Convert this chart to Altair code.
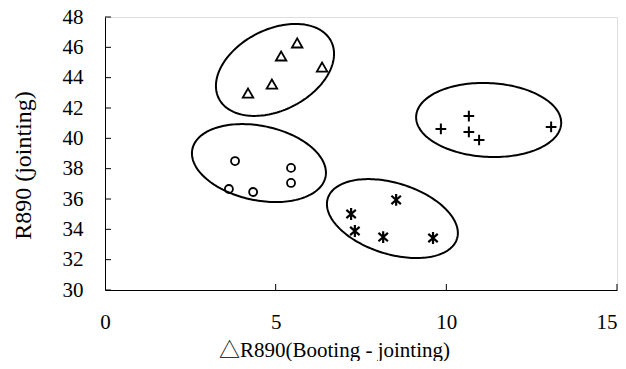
import altair as alt
import numpy as np
import pandas as pd

# ---- data ----
tri_x = [4.19, 4.89, 5.16, 5.63, 6.36]
tri_y = [42.99, 43.58, 45.43, 46.29, 44.70]
cir_x = [3.81, 5.45, 5.45, 3.63, 4.34]
cir_y = [38.50, 38.05, 37.06, 36.66, 36.46]
ast_x = [8.53, 7.21, 7.32, 8.15, 9.61]
ast_y = [35.94, 35.01, 33.89, 33.49, 33.43]
plus_x = [10.66, 9.84, 10.66, 10.96, 13.07]
plus_y = [41.47, 40.62, 40.42, 39.89, 40.75]

x_ticks = [0, 5, 10, 15]
y_ticks = [30, 32, 34, 36, 38, 40, 42, 44, 46, 48]

# ellipse annotations: centre (data units), semi-axes (px), rotation (deg, screen)
ell_cx = [4.98, 4.51, 8.42, 11.24]
ell_cy = [44.51, 38.37, 34.71, 41.21]
ell_a = [63, 68, 67.7, 72.6]
ell_b = [40.4, 37.2, 35.5, 36.9]
ell_t = [-27, 11.8, 17.4, 2.9]

W, H = 512, 273
XD, YD = (0, 15), (30, 48)
pxu = W / (XD[1] - XD[0])
pyu = H / (YD[1] - YD[0])

rows = []
tt = np.linspace(0, 2 * np.pi, 181)
for i in range(4):
    th = np.radians(ell_t[i])
    dx = ell_a[i] * np.cos(tt) * np.cos(th) - ell_b[i] * np.sin(tt) * np.sin(th)
    dy = ell_a[i] * np.cos(tt) * np.sin(th) + ell_b[i] * np.sin(tt) * np.cos(th)
    for k in range(len(tt)):
        rows.append({"e": i, "k": k, "x": ell_cx[i] + dx[k] / pxu, "y": ell_cy[i] - dy[k] / pyu})
ell_df = pd.DataFrame(rows)

xs = alt.Scale(domain=list(XD), nice=False, zero=False)
ys = alt.Scale(domain=list(YD), nice=False, zero=False)

FONT = "Liberation Serif"
TFONT = "'Liberation Serif', 'Noto Sans CJK SC'"

xax = alt.Axis(values=x_ticks, ticks=False, grid=False, domainColor="black", domainWidth=1,
               labelFont=FONT, labelFontSize=21, labelColor="black", labelPadding=21,
               labelFlush=False,
               labelAlign={"condition": {"test": "datum.value == 15", "value": "right"},
                           "value": "center"},
               title="△R890(Booting - jointing)", titleFont=TFONT, titleFontSize=21,
               titleFontWeight="normal", titleColor="black", titleX=229, titleY=66,
               titleBaseline="alphabetic", titleAlign="center")
yax = alt.Axis(values=y_ticks, ticks=False, grid=False, domainColor="black", domainWidth=1,
               labelFont=FONT, labelFontSize=21, labelColor="black", labelPadding=22,
               labelFlush=False,
               title="R890 (jointing)", titleFont=FONT, titleFontSize=24,
               titleFontWeight="normal", titleColor="black", titleX=-82, titleY=148,
               titleAngle=270, titleBaseline="middle", titleAlign="center")

def pts(xv, yv, shape, size, sw=1.8):
    df = pd.DataFrame({"x": xv, "y": yv})
    return alt.Chart(df).mark_point(shape=shape, size=size, filled=False, color="black",
                                    strokeWidth=sw, opacity=1).encode(
        x=alt.X("x:Q", scale=xs, axis=xax), y=alt.Y("y:Q", scale=ys, axis=yax))

tri = pts(tri_x, tri_y, "triangle-up", 110)
cir = pts(cir_x, cir_y, "circle", 64)
ast = pts(ast_x, ast_y, "M0,-1L0,1M-0.8,-0.7L0.8,0.7M-0.8,0.7L0.8,-0.7", 140, 2.2)
pls = pts(plus_x, plus_y, "M-1,0L1,0M0,-1L0,1", 115, 2)

ell = alt.Chart(ell_df).mark_line(color="black", strokeWidth=2).encode(
    x=alt.X("x:Q", scale=xs, axis=xax), y=alt.Y("y:Q", scale=ys, axis=yax),
    detail="e:N", order="k:Q")

ytk = alt.Chart(pd.DataFrame({"v": y_ticks})).mark_rule(color="black", strokeWidth=1).encode(
    y=alt.Y("v:Q", scale=ys, axis=yax), x=alt.value(0), x2=alt.value(6))
xtk = alt.Chart(pd.DataFrame({"v": x_ticks[1:]})).mark_rule(color="black", strokeWidth=1).encode(
    x=alt.X("v:Q", scale=xs, axis=xax), y=alt.value(H), y2=alt.value(H - 6))

chart = alt.layer(ell, ytk, xtk, tri, cir, ast, pls).properties(
    width=W, height=H,
    padding={"left": 97, "top": 9, "right": 1, "bottom": 71},
    autosize=alt.AutoSizeParams(type="none"),
).configure_view(stroke=None).configure(background="white")

chart.save("out.html", embed_options={"renderer": "svg", "actions": False})
